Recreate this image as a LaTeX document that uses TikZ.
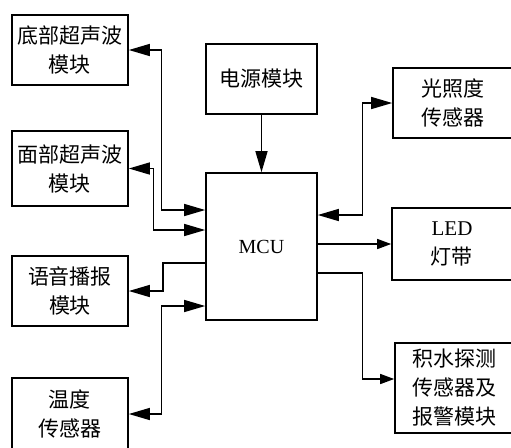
\documentclass[tikz,border=0pt]{standalone}
\usepackage{fontspec}
\setmainfont{Liberation Serif}
\newfontfamily\cjk{Noto Sans CJK SC}
\usetikzlibrary{arrows.meta,calc,positioning}

\begin{document}
\begin{tikzpicture}[
  x=0.5pt,y=-0.5pt,
  >={Triangle[length=10.5pt,width=6pt]},
  box/.style={draw,line width=0.8pt,minimum width=58pt,minimum height=35pt,align=center,inner sep=2pt,font=\cjk\fontsize{10.5}{14.5}\selectfont},
  wide/.style={box,minimum width=60pt},
  link/.style={line width=0.7pt},
  dual/.style={link,<->},
  feed/.style={link,->},
  short/.style={link,-{Triangle[length=7pt,width=5pt]}}
]
\useasboundingbox (0,0) rectangle (511,447);
\clip (0,0) rectangle (511,447);
% left column
\node[box] (bot) at (70,50) {底部超声波\\模块};
\node[box,minimum height=37.5pt] (face) at (70,168.5) {面部超声波\\模块};
\node[box] (voice) at (70,291) {语音播报\\模块};
\node[box,minimum height=36pt] (temp) at (70,414) {温度\\传感器};
% middle
\node[box,minimum width=55.5pt] (power) at (261.5,79) {电源模块};
\node[box,minimum width=55.5pt,minimum height=73.5pt,font=\fontsize{10}{14}\selectfont] (mcu) at (261.5,246.5) {MCU};
% right column
\node[wide] (light) at (453,103) {光照度\\传感器};
\node[wide,minimum height=36pt] (led) at (452,244) {{\rmfamily LED}\\灯带};
\node[wide,minimum height=45pt] (water) at (455,388) {积水探测\\传感器及\\报警模块};
% ports on the mcu
\coordinate (m1) at ($(mcu.west)+(0,-36.5)$);
\coordinate (m2) at ($(mcu.west)+(0,-16.5)$);
\coordinate (m3) at ($(mcu.west)+(0,16.5)$);
\coordinate (m4) at ($(mcu.west)+(0,59.5)$);
\coordinate (e1) at ($(mcu.east)+(0,-31.5)$);
\coordinate (e3) at ($(mcu.east)+(0,26.5)$);
\coordinate (w1) at ($(water.west)+(0,-9)$);
\draw[dual] (bot.east) -- ++(33,0) |- (m1);
\draw[dual] (face.east) -- ++(25,0) |- (m2);
\draw[feed] (m3) -- ++(-42,0) |- (voice.east);
\draw[dual] (temp.east) -- ++(33,0) |- (m4);
\draw[feed] (power) -- (mcu);
\draw[dual] (e1) -- ++(45,0) |- (light.west);
\draw[short] (mcu.east |- led.west) -- (led.west);
\draw[short] (e3) -- ++(45,0) |- (w1);
\end{tikzpicture}
\end{document}
